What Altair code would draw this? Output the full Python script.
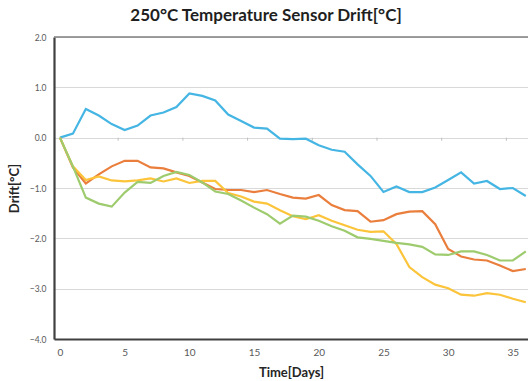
import altair as alt
import pandas as pd

days = list(range(0, 37))

blue = [0.00, 0.08, 0.57, 0.44, 0.27, 0.15, 0.24, 0.44, 0.50, 0.61, 0.88, 0.83, 0.74,
        0.46, 0.33, 0.20, 0.18, -0.02, -0.03, -0.02, -0.15, -0.24, -0.28, -0.53,
        -0.76, -1.08, -0.97, -1.08, -1.08, -0.99, -0.84, -0.69, -0.91, -0.86, -1.02, -1.00, -1.16]
orange = [0.00, -0.59, -0.91, -0.73, -0.57, -0.46, -0.46, -0.59, -0.61, -0.69, -0.76, -0.89, -1.02,
          -1.04, -1.04, -1.08, -1.04, -1.12, -1.19, -1.21, -1.14, -1.34, -1.44, -1.46,
          -1.67, -1.64, -1.52, -1.47, -1.46, -1.72, -2.21, -2.36, -2.42, -2.44, -2.54, -2.65, -2.61]
yellow = [0.00, -0.57, -0.84, -0.77, -0.85, -0.87, -0.85, -0.81, -0.87, -0.81, -0.90, -0.86, -0.86,
          -1.10, -1.17, -1.27, -1.31, -1.44, -1.56, -1.62, -1.54, -1.65, -1.74, -1.83,
          -1.87, -1.86, -2.11, -2.57, -2.77, -2.92, -2.99, -3.12, -3.14, -3.09, -3.12, -3.20, -3.27]
green = [0.00, -0.57, -1.19, -1.31, -1.37, -1.09, -0.88, -0.90, -0.76, -0.68, -0.74, -0.89, -1.07,
         -1.12, -1.25, -1.39, -1.52, -1.71, -1.55, -1.57, -1.65, -1.76, -1.85, -1.98,
         -2.01, -2.05, -2.09, -2.12, -2.17, -2.32, -2.33, -2.26, -2.26, -2.33, -2.44, -2.44, -2.26]

series_names = ["Sensor A", "Sensor B", "Sensor C", "Sensor D"]
series_values = [blue, orange, yellow, green]
series_colors = ["#45B5E3", "#EA7E3C", "#FBC43A", "#9DCB6E"]

x_tick_labels = [0, 5, 10, 15, 20, 25, 30, 35]
y_tick_labels = [-4.0, -3.0, -2.0, -1.0, 0.0, 1.0, 2.0]
category_tick_days = [4.5, 9.5, 14.5, 19.5, 24.5, 29.5, 34.5]

rows = []
for name, vals in zip(series_names, series_values):
    for d, v in zip(days, vals):
        rows.append({"day": d, "drift": v, "series": name})
df = pd.DataFrame(rows)

FONT = "Lato"

x_scale = alt.Scale(domain=[-0.46, 36.17], nice=False, zero=False)
y_scale = alt.Scale(domain=[-4, 2], nice=False)

lines = alt.Chart(df).mark_line(strokeWidth=2.2, clip=True).encode(
    x=alt.X("day:Q", scale=x_scale,
            axis=alt.Axis(values=x_tick_labels, title="Time[Days]", grid=False, ticks=False,
                          domainColor="#404040", domainWidth=2.2, labelColor="#595959",
                          labelFontSize=10, labelPadding=8, titleFontSize=13,
                          titleFontWeight="bold", titleColor="#262626", titlePadding=9)),
    y=alt.Y("drift:Q", scale=y_scale,
            axis=alt.Axis(values=y_tick_labels, format=".1f", title="Drift[°C]", grid=True,
                          gridColor="#D9D9D9", gridWidth=1.2, ticks=False,
                          domainColor="#404040", domainWidth=2.2, labelColor="#595959",
                          labelFontSize=8.5, labelPadding=8, titleFontSize=13,
                          titleFontWeight="bold", titleColor="#262626", titlePadding=8)),
    color=alt.Color("series:N", scale=alt.Scale(domain=series_names, range=series_colors),
                    legend=None),
)

top_border = alt.Chart(pd.DataFrame({"y": [2.0]})).mark_rule(
    color="#7F7F7F", strokeWidth=1.5).encode(y=alt.Y("y:Q", scale=y_scale))

cat_ticks = alt.Chart(pd.DataFrame({"d": category_tick_days})).mark_rule(
    color="#BFBFBF", strokeWidth=1).encode(
    x=alt.X("d:Q", scale=x_scale),
    y=alt.datum(0.0),
    y2=alt.datum(-0.06),
)

chart = alt.layer(top_border, cat_ticks, lines).properties(
    width=474,
    height=302,
    title=alt.TitleParams("250°C Temperature Sensor Drift[°C]", fontSize=17, font=FONT,
                          fontWeight="bold", color="#1F1F1F", anchor="middle", dx=-25,
                          offset=8),
    autosize=alt.AutoSizeParams(type="none"),
    padding={"left": 54, "top": 37, "right": 0, "bottom": 42},
).configure(font=FONT).configure_view(stroke=None).configure_axis(
    labelFont=FONT, titleFont=FONT)

chart.save("out.html", embed_options={"renderer": "svg", "actions": False})
